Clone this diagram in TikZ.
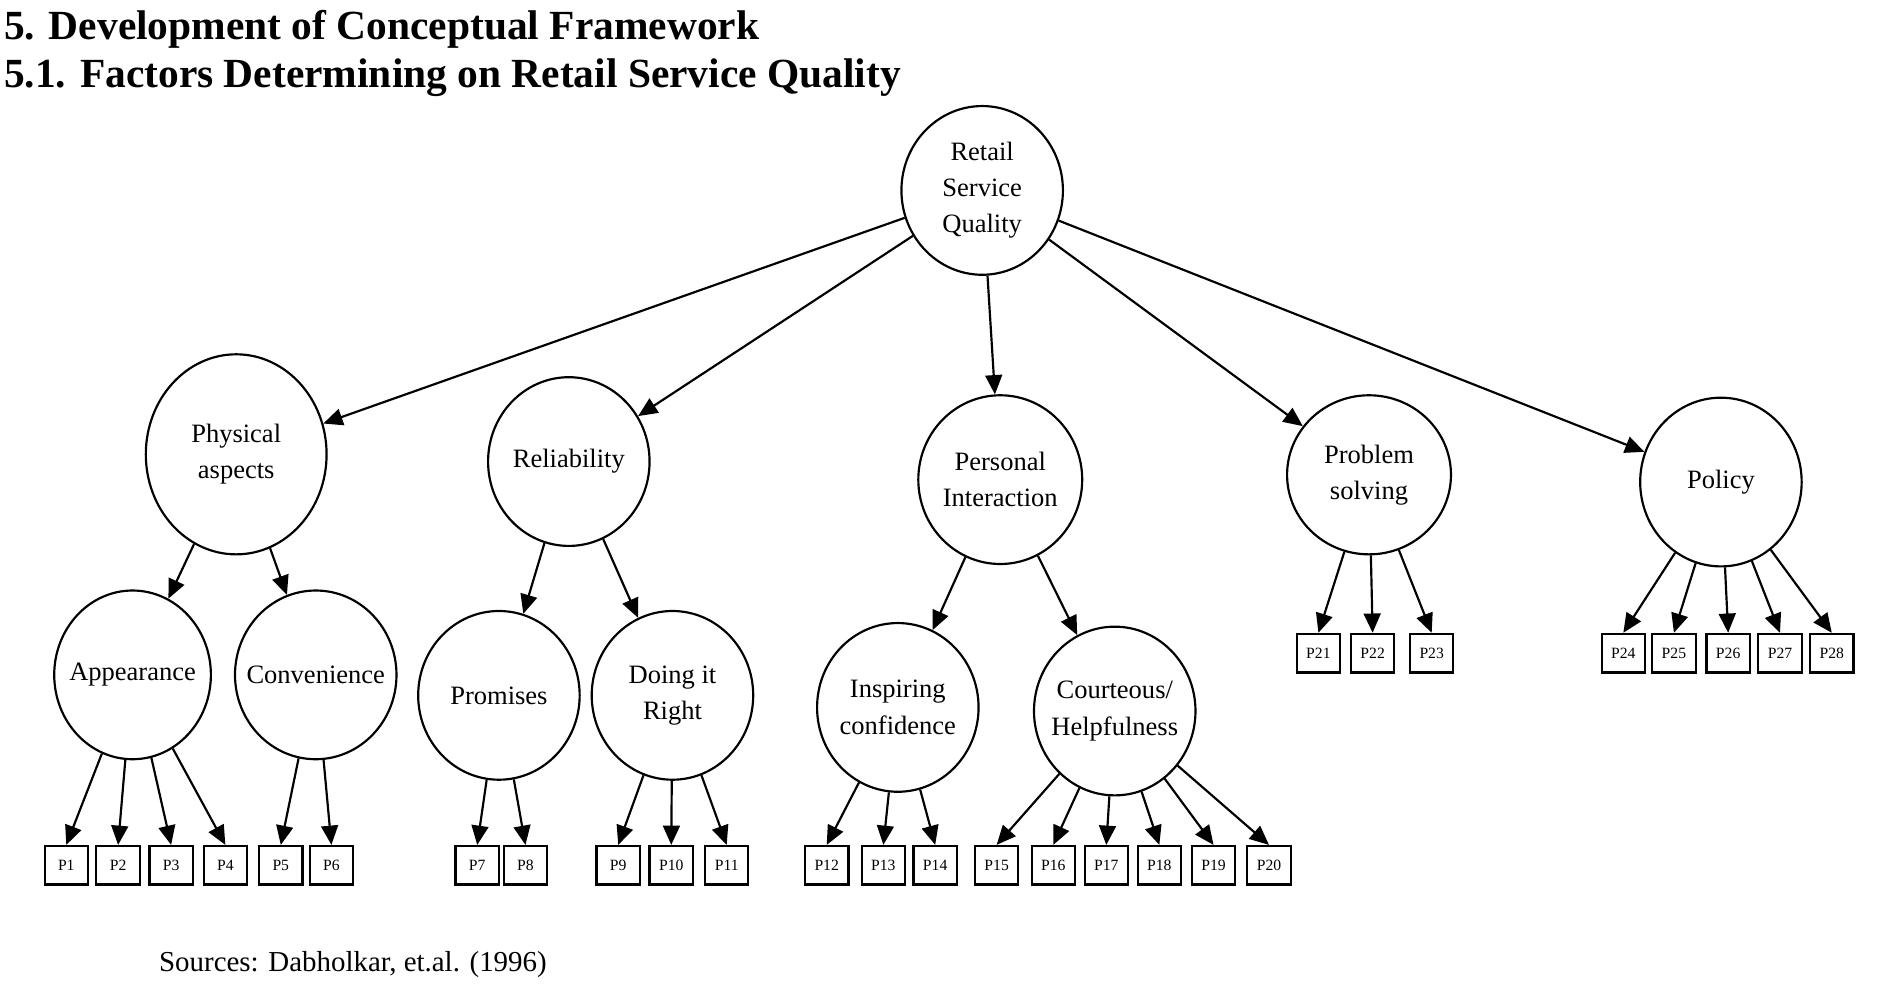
\documentclass[tikz,border=0pt]{standalone}
\usepackage{fontspec}
\setmainfont{Liberation Serif}
\usetikzlibrary{shapes.geometric,arrows.meta}
\begin{document}
\begin{tikzpicture}[x=0.5pt,y=-0.5pt,
  el/.style={ellipse,draw,line width=0.9pt,inner xsep=-20pt,inner ysep=0pt,align=center,font=\fontsize{11}{15}\selectfont},
  bx/.style={draw,line width=0.9pt,minimum width=18pt,minimum height=16pt,inner sep=0pt,font=\fontsize{6.5}{7}\selectfont},
  ar/.style={-{Triangle[length=8pt,width=7pt]},line width=0.9pt}]
\useasboundingbox (0,0) rectangle (1560,818);
\fill[white] (0,0) rectangle (1560,818);
\node[anchor=base west,font=\bfseries\fontsize{17.2}{19}\selectfont,inner sep=0pt] (t1) at (3,33) {5. Development of Conceptual Framework};
\node[anchor=base west,font=\bfseries\fontsize{17.2}{19}\selectfont,inner sep=0pt] (t2) at (3,73) {5.1. Factors Determining on Retail Service Quality};
% level 0
\node[el,minimum width=67pt,minimum height=70pt] (r) at (815,158) {Retail\\Service\\Quality};
% level 1
\node[el,minimum width=75pt,minimum height=83pt] (pa) at (196,377) {Physical\\aspects};
\node[el,minimum width=67pt,minimum height=70pt] (re) at (472,383) {Reliability};
\node[el,minimum width=68pt,minimum height=70pt] (pi) at (830,398) {Personal\\Interaction};
\node[el,minimum width=68pt,minimum height=66pt] (ps) at (1136,394) {Problem\\solving};
\node[el,minimum width=67pt,minimum height=70pt] (po) at (1428,400) {Policy};
% level 2
\node[el,minimum width=65pt,minimum height=70pt] (ap) at (110,560) {Appearance};
\node[el,minimum width=67pt,minimum height=70pt] (co) at (262,560) {Convenience};
\node[el,minimum width=67pt,minimum height=70pt] (pr) at (414,577) {Promises};
\node[el,minimum width=67pt,minimum height=70pt] (dr) at (558,577) {Doing it\\Right};
\node[el,minimum width=67pt,minimum height=70pt] (ic) at (745,587) {Inspiring\\confidence};
\node[el,minimum width=67pt,minimum height=70pt] (ch) at (925,590) {Courteous/\\Helpfulness};
% boxes
\foreach \n/\x in {1/55,2/98,3/142,4/187,5/233,6/275,7/396,8/436,9/513,10/557,11/603,12/686,13/733,14/776,15/827,16/874,17/918,18/962,19/1007,20/1053}
  \node[bx] (p\n) at (\x,718) {P\n};
\foreach \n/\x in {21/1094,22/1139,23/1188,24/1347,25/1389,26/1434,27/1477,28/1520}
  \node[bx] (p\n) at (\x,542) {P\n};
% arrows
\foreach \c in {pa,re,pi,ps,po} \draw[ar] (r) -- (\c);
\foreach \c in {ap,co} \draw[ar] (pa) -- (\c);
\foreach \c in {pr,dr} \draw[ar] (re) -- (\c);
\foreach \c in {ic,ch} \draw[ar] (pi) -- (\c);
\foreach \c in {1,2,3,4} \draw[ar] (ap) -- (p\c.north);
\foreach \c in {5,6} \draw[ar] (co) -- (p\c.north);
\foreach \c in {7,8} \draw[ar] (pr) -- (p\c.north);
\foreach \c in {9,10,11} \draw[ar] (dr) -- (p\c.north);
\foreach \c in {12,13,14} \draw[ar] (ic) -- (p\c.north);
\foreach \c in {15,...,20} \draw[ar] (ch) -- (p\c.north);
\foreach \c in {21,22,23} \draw[ar] (ps) -- (p\c.north);
\foreach \c in {24,...,28} \draw[ar] (po) -- (p\c.north);
\node[anchor=west,font=\fontsize{12}{14}\selectfont] (src) at (125,800) {Sources: Dabholkar, et.al. (1996)};
\end{tikzpicture}
\end{document}
